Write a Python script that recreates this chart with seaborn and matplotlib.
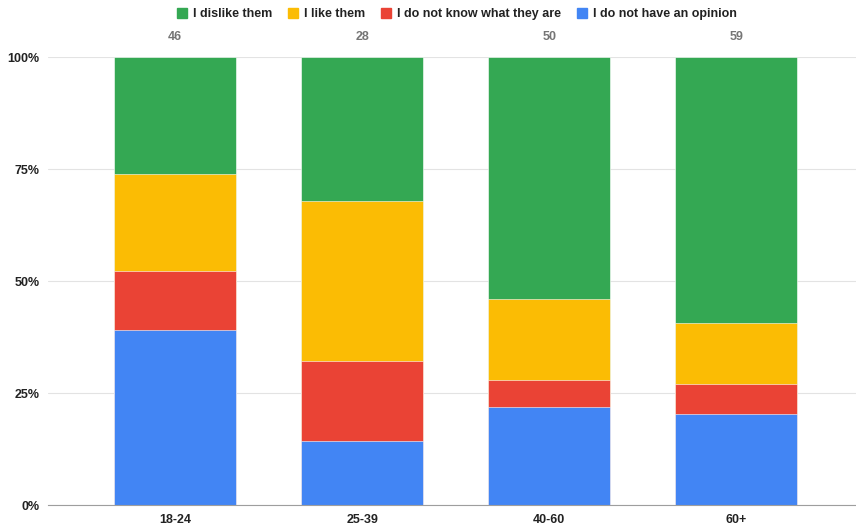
import numpy as np
import pandas as pd
import matplotlib
matplotlib.use("Agg")
import matplotlib.pyplot as plt
import seaborn as sns
from matplotlib.ticker import PercentFormatter
from matplotlib.lines import Line2D

# Data (counts per age group)
groups = ["18-24", "25-39", "40-60", "60+"]
no_opinion = [18, 4, 11, 12]
dont_know = [6, 5, 3, 4]
like = [10, 10, 9, 8]
dislike = [12, 9, 27, 35]

series_names = ["I dislike them", "I like them", "I do not know what they are", "I do not have an opinion"]
colors = ["#34A853", "#FBBC04", "#EA4335", "#4285F4"]

sns.set_style("white")
plt.rcParams["font.family"] = ["Liberation Sans", "DejaVu Sans"]

df = pd.DataFrame({"group": groups, "no_opinion": no_opinion, "dont_know": dont_know,
                   "like": like, "dislike": dislike})
df["total"] = df[["no_opinion", "dont_know", "like", "dislike"]].sum(axis=1)
pct = df[["no_opinion", "dont_know", "like", "dislike"]].div(df["total"], axis=0) * 100

# cumulative tops, drawn back to front
cum = pct.cumsum(axis=1)
layers = [("dislike", colors[0]), ("like", colors[1]), ("dont_know", colors[2]), ("no_opinion", colors[3])]

fig = plt.figure(figsize=(8.56, 5.29), dpi=100)
ax = fig.add_axes([0.056, 0.045, 0.944, 0.847])

for col, c in layers:
    sns.barplot(x=df["group"], y=cum[col], color=c, width=0.65, saturation=1,
                edgecolor="white", linewidth=0.4, ax=ax)

ax.set_ylim(0, 100)
ax.set_xlim(-0.68, 3.64)
ax.set_yticks([0, 25, 50, 75, 100])
ax.yaxis.set_major_formatter(PercentFormatter(decimals=0))
ax.yaxis.grid(True, color="#e3e3e3", linewidth=0.8)
ax.set_axisbelow(True)
for s in ["top", "right", "left"]:
    ax.spines[s].set_visible(False)
ax.spines["bottom"].set_color("#9e9e9e")
ax.set_xlabel("")
ax.set_ylabel("")
ax.tick_params(axis="both", length=0, labelsize=9, pad=6)
for lab in ax.get_xticklabels() + ax.get_yticklabels():
    lab.set_fontweight("bold")
    lab.set_color("#222222")

# totals above bars
for i, t in enumerate(df["total"]):
    ax.text(i, 104.5, str(t), ha="center", va="center", fontsize=9,
            fontweight="bold", color="#757575", clip_on=False)

handles = [Line2D([0], [0], marker="s", linestyle="", markersize=7,
                  markerfacecolor=c, markeredgecolor=c) for c in colors]
leg = fig.legend(handles, series_names, loc="center", bbox_to_anchor=(0.531, 0.973),
                 ncol=4, frameon=False, handletextpad=0.05, columnspacing=0.9,
                 handlelength=1.6, prop={"weight": "bold", "size": 9})
for t in leg.get_texts():
    t.set_color("#222222")

fig.savefig("out.png", dpi=100)
